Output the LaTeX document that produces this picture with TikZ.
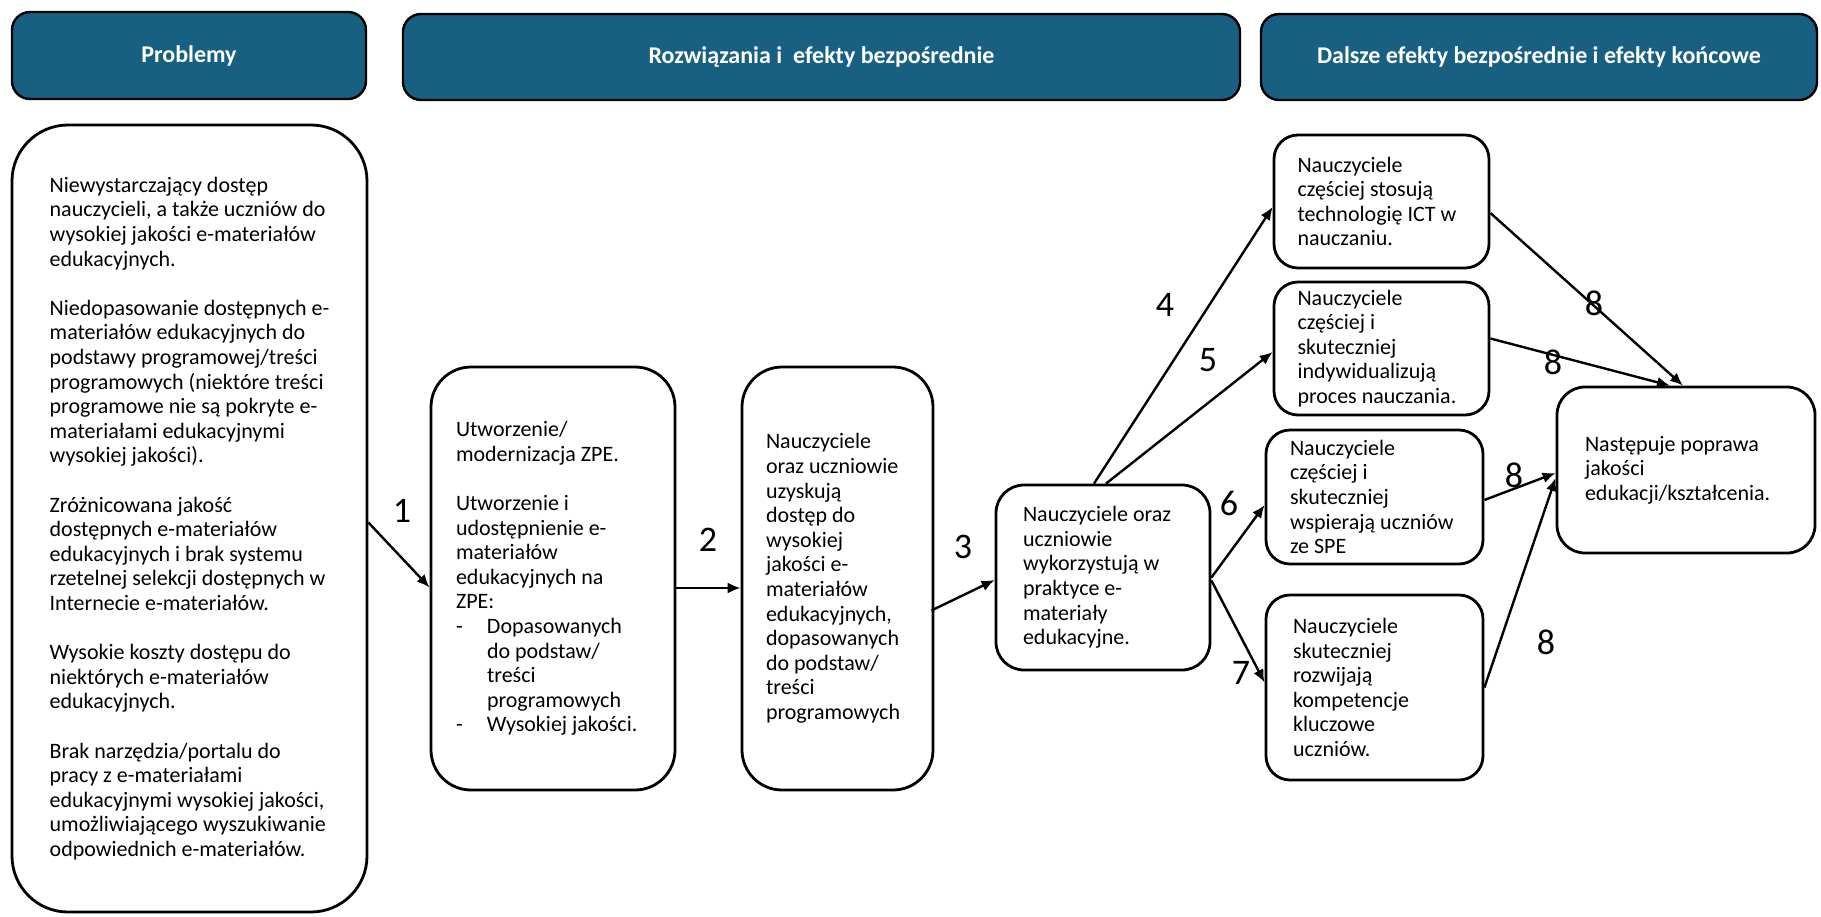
\documentclass[tikz,border=0pt]{standalone}
\usepackage{fontspec}
\setmainfont{Carlito}
\usetikzlibrary{arrows.meta,calc}
\definecolor{hdr}{RGB}{24,96,130}
\begin{document}
\begin{tikzpicture}[x=0.5pt,y=-0.5pt,
  hdrbox/.style={draw=black, line width=1.2pt, fill=hdr, rounded corners=9pt, text=white, font=\fontsize{12}{14}\selectfont\bfseries, inner sep=0pt},
  box/.style={draw=black, line width=1.4pt, align=flush left, font=\fontsize{11}{12.3}\selectfont, inner ysep=0pt},
  arr/.style={line width=1.2pt, -{Latex[length=6.5pt,width=5.5pt]}},
  num/.style={font=\fontsize{18}{20}\selectfont, inner sep=0pt}]
\useasboundingbox (0,0) rectangle (1821,916);

% headers
\node[hdrbox, minimum width=177pt, minimum height=43.5pt] (h1) at (189,55.5) {Problemy};
\node[hdrbox, minimum width=418.5pt, minimum height=43pt] (h2) at (821.5,57) {Rozwiązania i\ \ efekty bezpośrednie};
\node[hdrbox, minimum width=278pt, minimum height=43pt] (h3) at (1539,57) {Dalsze efekty bezpośrednie i efekty końcowe};

% boxes
\node[box, align=left, inner xsep=0pt, rounded corners=28pt, minimum width=177.5pt, minimum height=393.5pt] (p) at (189.5,518.5) {%
Niewystarczający dostęp\\
nauczycieli, a także uczniów do\\
wysokiej jakości e-materiałów\\
edukacyjnych.\\[12.3pt]
Niedopasowanie dostępnych e-\\
materiałów edukacyjnych do\\
podstawy programowej/treści\\
programowych (niektóre treści\\
programowe nie są pokryte e-\\
materiałami edukacyjnymi\\
wysokiej jakości).\\[12.3pt]
Zróżnicowana jakość\\
dostępnych e-materiałów\\
edukacyjnych i brak systemu\\
rzetelnej selekcji dostępnych w\\
Internecie e-materiałów.\\[12.3pt]
Wysokie koszty dostępu do\\
niektórych e-materiałów\\
edukacyjnych.\\[12.3pt]
Brak narzędzia/portalu do\\
pracy z e-materiałami\\
edukacyjnymi wysokiej jakości,\\
umożliwiającego wyszukiwanie\\
odpowiednich e-materiałów.};

\node[box, text width=97pt, inner xsep=12.5pt, rounded corners=20pt, minimum height=211.5pt] (b2) at (553,578.5) {%
Utworzenie/\\
modernizacja ZPE.\\[12.3pt]
Utworzenie i\\
udostępnienie e-\\
materiałów\\
edukacyjnych na\\
ZPE:\\
\makebox[15.5pt][l]{-}Dopasowanych\\
\hspace*{15.5pt}do podstaw/\\
\hspace*{15.5pt}treści\\
\hspace*{15.5pt}programowych\\
\makebox[15.5pt][l]{-}Wysokiej jakości.};

\node[box, text width=71.5pt, inner xsep=12pt, rounded corners=20pt, minimum height=211.5pt] (b3) at (837.5,578.5) {%
Nauczyciele\\
oraz uczniowie\\
uzyskują\\
dostęp do\\
wysokiej\\
jakości e-\\
materiałów\\
edukacyjnych,\\
dopasowanych\\
do podstaw/\\
treści\\
programowych};

\node[box, text width=80pt, inner xsep=13.5pt, rounded corners=14pt, minimum height=92.5pt] (b4) at (1103,577.5) {%
Nauczyciele oraz\\
uczniowie\\
wykorzystują w\\
praktyce e-\\
materiały\\
edukacyjne.};

\node[box, text width=84pt, inner xsep=11.75pt, rounded corners=12pt, minimum height=66.5pt] (b5) at (1381.5,201.5) {%
Nauczyciele\\
częściej stosują\\
technologię ICT w\\
nauczaniu.};

\node[box, text width=84pt, inner xsep=11.75pt, rounded corners=12pt, minimum height=66.5pt] (b6) at (1381.5,348.5) {%
Nauczyciele\\
częściej i\\
skuteczniej\\
indywidualizują\\
proces nauczania.};

\node[box, text width=84.5pt, inner xsep=12pt, rounded corners=12pt, minimum height=67pt] (b7) at (1374.5,497) {%
Nauczyciele\\
częściej i\\
skuteczniej\\
wspierają uczniów\\
ze SPE};

\node[box, text width=81.5pt, inner xsep=13.5pt, rounded corners=12pt, minimum height=92.5pt] (b8) at (1374.5,687.5) {%
Nauczyciele\\
skuteczniej\\
rozwijają\\
kompetencje\\
kluczowe\\
uczniów.};

\node[box, text width=101pt, inner xsep=14pt, rounded corners=14pt, minimum height=83pt] (b9) at (1686,470) {%
Następuje poprawa\\
jakości\\
edukacji/kształcenia.};

% connectors
\draw[arr] ($(p.east)+(0,4)$) -- ($(b2.west)+(0,9)$);
\draw[arr] ($(b2.east)+(0,9.5)$) -- ($(b3.west)+(0,9.5)$);
\draw[arr] ($(b3.east)+(-3,32)$) -- ($(b4.west)+(0,2.5)$);
\draw[arr] ($(b4.north)+(-9,0)$) -- ($(b5.west)+(0,5.5)$);
\draw[arr] ($(b4.north)+(3,0)$) -- ($(b6.west)+(0,3.5)$);
\draw[arr] (b4.east) -- ($(b7.west)+(0,8)$);
\draw[arr] ($(b4.east)+(0,3)$) -- ($(b8.west)+(0,-5)$);
\draw[arr] ($(b5.east)+(0,11.5)$) -- ($(b9.north)+(-3,0)$);
\draw[arr] ($(b6.east)+(0,-10)$) -- ($(b9.north)+(-16,0)$);
\draw[arr] ($(b7.east)+(0,3)$) -- ($(b9.west)+(0,3)$);
\draw[arr] (b8.east) -- ($(b9.west)+(0,8)$);

% labels
\node[num] (n1) at (402,511) {1};
\node[num] (n2) at (708,540) {2};
\node[num] (n3) at (963,547) {3};
\node[num] (n4) at (1165,305) {4};
\node[num] (n5) at (1208,360) {5};
\node[num] (n6) at (1229,503) {6};
\node[num] (n7) at (1241,673) {7};
\node[num] (n8a) at (1594,303) {8};
\node[num] (n8b) at (1553,362) {8};
\node[num] (n8c) at (1514,475) {8};
\node[num] (n8d) at (1546,642) {8};
\end{tikzpicture}
\end{document}
